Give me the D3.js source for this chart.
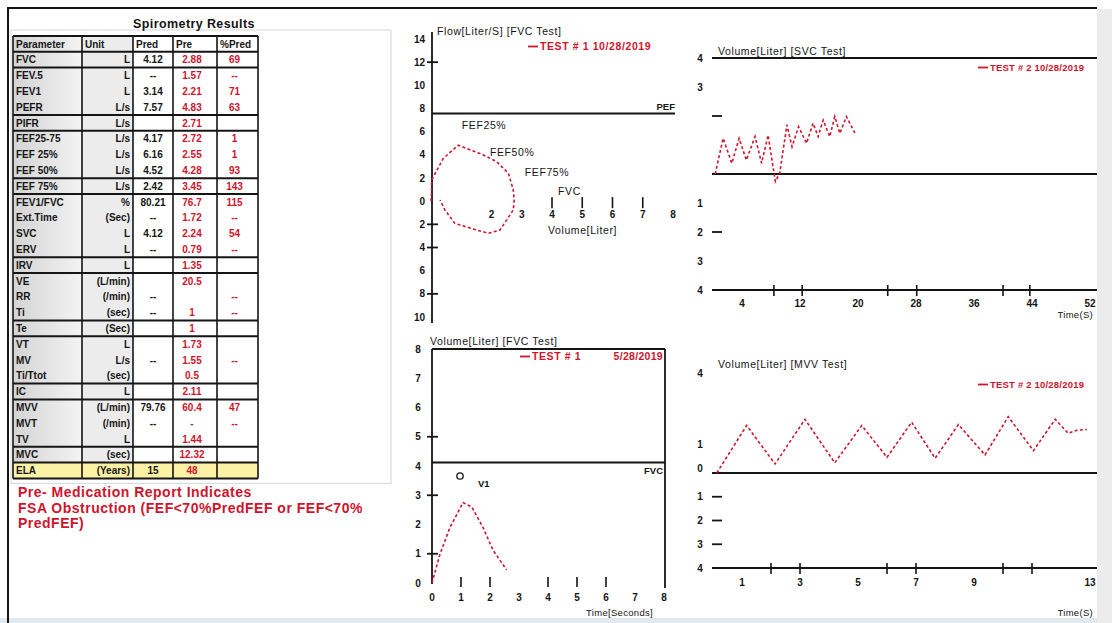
<!DOCTYPE html>
<html><head><meta charset="utf-8">
<script src="https://cdn.jsdelivr.net/npm/d3@7"></script>
<style>
body{margin:0;background:#fff}
svg{display:block}
text{font-family:"Liberation Sans",Arial,sans-serif}
</style>
</head><body>
<svg id="c" width="1112" height="623"></svg>
<script>
// ---------- results table ----------
const tableColumns = ["Parameter", "Unit", "Pred", "Pre", "%Pred"];
const paramNames = ["FVC","FEV.5","FEV1","PEFR","PIFR","FEF25-75","FEF 25%","FEF 50%","FEF 75%","FEV1/FVC","Ext.Time","SVC","ERV","IRV","VE","RR","Ti","Te","VT","MV","Ti/Ttot","IC","MVV","MVT","TV","MVC","ELA"];
const paramUnits = ["L","L","L","L/s","L/s","L/s","L/s","L/s","L/s","%","(Sec)","L","L","L","(L/min)","(/min)","(sec)","(Sec)","L","L/s","(sec)","L","(L/min)","(/min)","L","(sec)","(Years)"];
const predValues = ["4.12","--","3.14","7.57","","4.17","6.16","4.52","2.42","80.21","--","4.12","--","","","--","--","","","--","","","79.76","--","","","15"];
const preValues  = ["2.88","1.57","2.21","4.83","2.71","2.72","2.55","4.28","3.45","76.7","1.72","2.24","0.79","1.35","20.5","","1","1","1.73","1.55","0.5","2.11","60.4","-","1.44","12.32","48"];
const pctValues  = ["69","--","71","63","","1","1","93","143","115","--","54","--","","","--","--","","","--","","","47","--","","",""];
// rows (header = 0) that close a group with a heavy rule
const groupEnds = [0,1,4,5,8,9,13,14,17,18,21,22,25,26,27];
const noteLines = ["Pre- Medication Report Indicates","FSA Obstruction (FEF<70%PredFEF or FEF<70%","PredFEF)"];

// ---------- flow-volume loop ----------
const fvVolume = [0,0.02,0.02,0.41,0.9,1.73,2.17,2.56,2.72,2.75,2.72,2.28,1.9,1.51,0.79,0.46,0.3];
const fvFlow   = [0,0.8,1.83,3.7,4.83,3.99,3.41,2.41,0.97,0.1,-0.76,-2.49,-2.77,-2.49,-1.92,-0.76,0.1];
const fvYTicks = [14,12,10,8,6,4,2,0,-2,-4,-6,-8,-10];
const fvYTickMarks = [12,-2,-4,-8];
const fvXTicks = [2,3,4,5,6,7,8];
const fvXTickMarks = [4,5,6,7];
const fvNotes = ["FEF25%","FEF50%","FEF75%","FVC"];
const fvNoteVolume = [1.02,1.95,3.1,4.2];
const fvNoteFlow = [6.5,4.2,2.4,0.8];

// ---------- SVC test ----------
const svcTime   = [0.3,1.4,2.6,3.6,4.6,5.8,6.7,7.6,8.6,9.2,10.2,10.9,11.8,12.9,13.8,14.5,15.2,16.1,16.8,17.5,18.4,19.6];
const svcVolume = [0,1.23,0.37,1.23,0.48,1.29,0.37,1.34,-0.26,0.03,1.69,0.94,1.63,1.06,1.75,1.29,1.86,1.29,1.98,1.40,1.98,1.40];
const svcYLabels = [4,3,-1,-2,-3,-4];
const svcYTickMarks = [2,-2];
const svcXTickMarks = [8.4,12.3,24.1,28.1,40,43.7];
const svcXLabels = [4,12,20,28,36,44,52];

// ---------- volume-time (FVC) ----------
const vtTime   = [0,0.28,0.62,1.07,1.37,1.76,2.1,2.57];
const vtVolume = [0,1.0,1.9,2.75,2.6,1.9,1.13,0.45];
const vtYTicks = [0,1,2,3,4,5,6,7,8];
const vtYTickMarks = [1,3,5];
const vtXTicks = [0,1,2,3,4,5,6,7,8];
const vtXTickMarks = [1,2,4,5,6];

// ---------- MVV test ----------
const mvvTime   = [0.13,1.16,2.14,3.17,4.2,5.13,6.0,6.85,7.66,8.46,9.38,10.18,11.05,11.8,12.25,12.54,12.89];
const mvvVolume = [0,2.0,0.38,2.26,0.43,2.0,0.66,2.14,0.62,2.04,0.76,2.37,0.94,2.26,1.67,1.8,1.83];
const mvvYLabels = [4,1,0,-1,-2,-3,-4];
const mvvYTickMarks = [-1,-2,-3];
const mvvXTickMarks = [2,3,6,7,10,11];
const mvvXLabels = [1,3,5,7,9,13];

const RED = "#d0142c";
const INK = "#151515";
const svg = d3.select("#c");
const defs = svg.append("defs");

// page frame
svg.append("rect").attr("x",1097).attr("y",9).attr("width",15).attr("height",614).attr("fill","#ececec");
svg.append("rect").attr("x",0).attr("y",618).attr("width",1097).attr("height",5).attr("fill","#dfe9ee");
svg.append("line").attr("x1",7).attr("x2",1097).attr("y1",8).attr("y2",8).attr("stroke",INK).attr("stroke-width",2);
svg.append("line").attr("x1",8).attr("x2",8).attr("y1",8).attr("y2",623).attr("stroke",INK).attr("stroke-width",2);

// ================= table =================
const T = {x0:13, y0:36, rowH:15.8, edges:[13,82,133,173,217,258]};
const nRows = paramNames.length + 1;
const tBottom = T.y0 + nRows*T.rowH;
svg.append("rect").attr("x",11).attr("y",30).attr("width",380).attr("height",tBottom-30+5)
  .attr("fill","none").attr("stroke","#d6d6d6");
svg.append("text").attr("x",194).attr("y",28).attr("text-anchor","middle")
  .attr("font-size",12.5).attr("font-weight","bold").attr("letter-spacing",0.4).attr("fill",INK).text("Spirometry Results");

const grad = defs.append("linearGradient").attr("id","pg").attr("x1","0").attr("x2","1");
grad.append("stop").attr("offset","0").attr("stop-color","#d4d4d4");
grad.append("stop").attr("offset","1").attr("stop-color","#f3f3f3");
svg.append("rect").attr("x",T.edges[0]).attr("y",T.y0).attr("width",T.edges[1]-T.edges[0]).attr("height",nRows*T.rowH).attr("fill","url(#pg)");
svg.append("rect").attr("x",T.edges[1]).attr("y",T.y0).attr("width",T.edges[2]-T.edges[1]).attr("height",nRows*T.rowH).attr("fill","#ececec");
// last row highlight
svg.append("rect").attr("x",T.edges[0]).attr("y",T.y0+(nRows-1)*T.rowH).attr("width",T.edges[5]-T.edges[0]).attr("height",T.rowH).attr("fill","#fdf1a6");

const rowY = i => T.y0 + (i+0.5)*T.rowH + 3.6;
const tg = svg.append("g").attr("font-size",10).attr("font-weight","bold");
tableColumns.forEach((c,j)=>{
  tg.append("text").attr("x",T.edges[j]+3).attr("y",rowY(0)).attr("fill",INK).text(c);
});
paramNames.forEach((name,k)=>{
  const i = k+1;
  tg.append("text").attr("x",T.edges[0]+3).attr("y",rowY(i)).attr("fill",INK).text(name);
  tg.append("text").attr("x",T.edges[2]-3).attr("y",rowY(i)).attr("text-anchor","end").attr("fill",INK).text(paramUnits[k]);
  tg.append("text").attr("x",(T.edges[2]+T.edges[3])/2).attr("y",rowY(i)).attr("text-anchor","middle").attr("fill",INK).text(predValues[k]);
  tg.append("text").attr("x",(T.edges[3]+T.edges[4])/2-3).attr("y",rowY(i)).attr("text-anchor","middle").attr("fill",RED).text(preValues[k]);
  tg.append("text").attr("x",(T.edges[4]+T.edges[5])/2-3).attr("y",rowY(i)).attr("text-anchor","middle").attr("fill",RED).text(pctValues[k]);
});
// rules
svg.append("line").attr("x1",T.edges[0]).attr("x2",T.edges[5]).attr("y1",T.y0).attr("y2",T.y0).attr("stroke",INK).attr("stroke-width",2);
groupEnds.forEach(r=>{
  const y = T.y0 + (r+1)*T.rowH;
  svg.append("line").attr("x1",T.edges[0]).attr("x2",T.edges[5]).attr("y1",y).attr("y2",y).attr("stroke",INK).attr("stroke-width",2);
});
T.edges.forEach(x=>{
  svg.append("line").attr("x1",x).attr("x2",x).attr("y1",T.y0).attr("y2",tBottom).attr("stroke",INK).attr("stroke-width",1.6);
});
noteLines.forEach((s,i)=>{
  svg.append("text").attr("x",18).attr("y",497+i*15.5).attr("font-size",14).attr("font-weight","bold")
    .attr("letter-spacing",0.5).attr("fill",RED).text(s);
});

// helpers
function hline(x1,x2,y,w){svg.append("line").attr("x1",x1).attr("x2",x2).attr("y1",y).attr("y2",y).attr("stroke",INK).attr("stroke-width",w||1.8);}
function vline(x,y1,y2,w){svg.append("line").attr("x1",x).attr("x2",x).attr("y1",y1).attr("y2",y2).attr("stroke",INK).attr("stroke-width",w||1.8);}
function label(x,y,s,anchor,opts){
  const o = opts||{};
  const t = svg.append("text").attr("x",x).attr("y",y).attr("text-anchor",anchor||"start")
    .attr("font-size",o.size||10).attr("fill",o.fill||INK).text(s);
  if(o.bold) t.attr("font-weight","bold");
  if(o.ls) t.attr("letter-spacing",o.ls);
  return t;
}
function curve(xs,ys,sx,sy){
  const pts = xs.map((v,i)=>[sx(v),sy(ys[i])]);
  svg.append("path").attr("d",d3.line()(pts)).attr("fill","none").attr("stroke",RED)
    .attr("stroke-width",1.6).attr("stroke-dasharray","3,2.4");
}
function legend(x,y,s,size,ls){
  svg.append("line").attr("x1",x).attr("x2",x+10).attr("y1",y-3.5).attr("y2",y-3.5).attr("stroke",RED).attr("stroke-width",1.8);
  label(x+12,y,s,"start",{size:size||10.5,fill:RED,bold:true,ls:ls===undefined?0.6:ls});
}
const TITLE = {size:10.5, ls:0.6};

// ================= flow-volume loop =================
const fvX = d3.scaleLinear().domain([0,8]).range([431,673]);
const fvY = d3.scaleLinear().domain([-10,14]).range([317,39]);
vline(432,32,323);
fvYTicks.forEach(v=>label(425,fvY(v)+3.5,Math.abs(v),"end",{bold:true}));
fvYTickMarks.forEach(v=>hline(427,438,fvY(v)));
fvXTicks.forEach(v=>label(fvX(v),fvY(0)+17,v,"middle",{bold:true}));
fvXTickMarks.forEach(v=>vline(fvX(v),fvY(0)-4,fvY(0)+7,1.6));
const pefY = fvY(+predValues[3]);
hline(432,675,pefY,2);
label(675,pefY-3,"PEF","end",{size:9.5,bold:true});
label(437,35,"Flow[Liter/S]  [FVC Test]","start",TITLE);
legend(528,50,"TEST # 1  10/28/2019");
fvNotes.forEach((s,i)=>label(fvX(fvNoteVolume[i]),fvY(fvNoteFlow[i])+3,s,"start",TITLE));
label(548,234,"Volume[Liter]","start",TITLE);
curve(fvVolume,fvFlow,fvX,fvY);

// ================= SVC =================
const svcX = d3.scaleLinear().domain([0,52]).range([713,1090]);
const svcY = d3.scaleLinear().domain([-4,4]).range([290,58]);
hline(712,1097,svcY(4),2);
hline(712,1097,svcY(0),2);
hline(712,1097,svcY(-4),2);
svcYLabels.forEach(v=>label(700,svcY(v)+3.5,Math.abs(v),"middle",{bold:true}));
svcYTickMarks.forEach(v=>hline(712,722,svcY(v)));
svcXTickMarks.forEach(v=>vline(svcX(v),svcY(-4)-5,svcY(-4)+6,1.6));
svcXLabels.forEach(v=>label(svcX(v),svcY(-4)+17,v,"middle",{bold:true}));
label(718,55,"Volume[Liter]  [SVC Test]","start",TITLE);
legend(978,71,"TEST # 2  10/28/2019",9.5,0.2);
label(1093,318,"Time(S)","end",{size:9.5,ls:0.3});
curve(svcTime,svcVolume,svcX,svcY);

// ================= volume-time =================
const vtX = d3.scaleLinear().domain([0,8]).range([432,664]);
const vtY = d3.scaleLinear().domain([0,8]).range([583,349]);
vline(432,349,584);
hline(432,665,vtY(8));
vline(665,349,588);
vtYTicks.forEach(v=>label(418,vtY(v)+3.5,v,"middle",{bold:true}));
vtYTickMarks.forEach(v=>hline(427,438,vtY(v)));
vtXTickMarks.forEach(v=>vline(vtX(v),vtY(0)-6,vtY(0)+4,1.6));
vtXTicks.forEach(v=>label(vtX(v),601,v,"middle",{bold:true}));
const fvcY = vtY(+predValues[0]);
hline(432,665,fvcY,2);
label(663,fvcY+12,"FVC","end",{size:9.5,bold:true});
label(430,345,"Volume[Liter]   [FVC Test]","start",TITLE);
legend(520,360,"TEST # 1");
label(663,360,"5/28/2019","end",{size:10.5,fill:RED,bold:true,ls:0.3});
svg.append("circle").attr("cx",460).attr("cy",476).attr("r",3.2).attr("fill","none").attr("stroke",INK).attr("stroke-width",1.3);
label(478,487,"V1","start",{size:9.5,bold:true});
label(653,616,"Time[Seconds]","end",{size:9.5,ls:0.3});
curve(vtTime,vtVolume,vtX,vtY);

// ================= MVV =================
const mvvX = d3.scaleLinear().domain([0,13]).range([713,1090]);
const mvvY = d3.scaleLinear().domain([-4,4]).range([568,378]);
hline(712,1097,mvvY(0),2);
hline(712,1097,mvvY(-4),2);
mvvYLabels.forEach(v=>label(700,mvvY(v)+(v>=0?-1:3.5),Math.abs(v),"middle",{bold:true}));
mvvYTickMarks.forEach(v=>hline(712,722,mvvY(v)));
mvvXTickMarks.forEach(v=>vline(mvvX(v),mvvY(-4)-5,mvvY(-4)+6,1.6));
mvvXLabels.forEach(v=>label(mvvX(v),mvvY(-4)+18,v,"middle",{bold:true}));
label(718,368,"Volume[Liter]  [MVV Test]","start",TITLE);
legend(978,388,"TEST # 2  10/28/2019",9.5,0.2);
label(1093,616,"Time(S)","end",{size:9.5,ls:0.3});
curve(mvvTime,mvvVolume,mvvX,mvvY);
</script>
</body></html>
